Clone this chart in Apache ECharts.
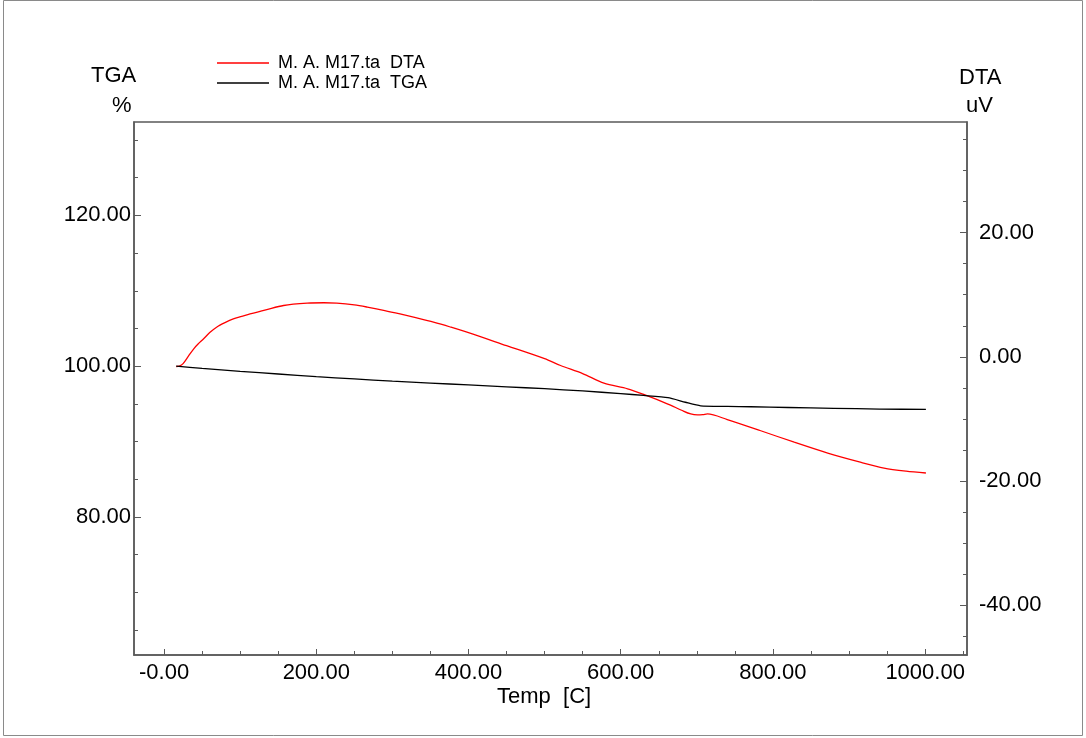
<!DOCTYPE html>
<html>
<head>
<meta charset="utf-8">
<script src="https://cdn.jsdelivr.net/npm/echarts@6/dist/echarts.min.js"></script>
<style>
html,body{margin:0;padding:0;background:#fff;}
#chart{width:1086px;height:738px;}
</style>
</head>
<body>
<div id="chart"></div>
<script>
// ---- data ----
const tgaTemps  = [16, 50, 100, 150, 200, 250, 300, 350, 400, 450, 500, 550, 600, 630, 662, 685, 705, 740, 771, 820, 880, 940, 1001];
const tgaValues = [100.0, 99.7, 99.3, 98.95, 98.6, 98.3, 98.0, 97.75, 97.5, 97.25, 97.0, 96.7, 96.35, 96.1, 95.8, 95.2, 94.73, 94.65, 94.6, 94.5, 94.4, 94.3, 94.25];

const dtaTemps  = [16, 20, 25, 32, 39, 45, 52, 60, 69, 80, 91, 102, 113, 135, 157, 188, 210, 227, 250, 267, 290, 310, 332, 354, 376, 400, 450, 500, 521, 550, 578, 609, 631, 662, 680, 692, 701, 708, 714, 740, 784, 828, 872, 916, 946, 975, 1001];
const dtaValues = [-1.56, -1.5, -1.1, 0.1, 1.29, 2.1, 2.9, 3.9, 4.77, 5.5, 6.1, 6.5, 6.9, 7.6, 8.26, 8.63, 8.7, 8.63, 8.35, 8.0, 7.45, 6.9, 6.25, 5.57, 4.8, 3.9, 1.8, -0.3, -1.4, -2.7, -4.25, -5.15, -6.1, -7.6, -8.6, -9.2, -9.35, -9.3, -9.2, -10.1, -11.9, -13.75, -15.5, -17.0, -17.9, -18.4, -18.7];

const xMajorTicks = [0, 200, 400, 600, 800, 1000];
const xMinorTicks = [0, 50, 100, 150, 200, 250, 300, 350, 400, 450, 500, 550, 600, 650, 700, 750, 800, 850, 900, 950, 1000, 1050];
const tgaMajorTicks = [80, 100, 120];
const tgaMinorTicks = [65, 70, 75, 85, 90, 95, 105, 110, 115, 125, 130];
const dtaMajorTicks = [-40, -20, 0, 20];
const dtaMinorTicks = [-45, -35, -30, -25, -15, -10, -5, 5, 10, 15, 25, 30, 35];

const seriesNames = ['M. A. M17.ta  DTA', 'M. A. M17.ta  TGA'];

const tgaData = tgaTemps.map((t, i) => [t, tgaValues[i]]);
const dtaData = dtaTemps.map((t, i) => [t, dtaValues[i]]);

const FONT = 'Liberation Sans, Arial, sans-serif';
const axisColor = '#5a5a5a';
const fmt = v => (v === 0 ? '-0.00' : v.toFixed(2));
const fmtR = v => v.toFixed(2);

const chart = echarts.init(document.getElementById('chart'), null, {renderer: 'canvas'});
chart.setOption({
  animation: false,
  backgroundColor: '#fff',
  grid: {left: 134, right: 119, top: 122, bottom: 83, show: true, borderColor: axisColor, borderWidth: 1.5},
  legend: {
    orient: 'vertical', left: 212, top: 48, itemWidth: 52, itemHeight: 1.5, itemGap: 0,
    icon: 'rect',
    data: seriesNames,
    textStyle: {fontFamily: FONT, fontSize: 18, lineHeight: 20, color: '#000', padding: [0, 0, 0, 4]}
  },
  xAxis: [
    {type: 'value', min: -39.5, max: 1055, position: 'bottom',
     axisLine: {show: true, onZero: false, lineStyle: {color: axisColor, width: 1.5}},
     axisTick: {show: true, inside: true, length: 6, customValues: xMajorTicks, lineStyle: {color: axisColor}},
     axisLabel: {show: true, customValues: xMajorTicks, formatter: fmt, fontFamily: FONT, fontSize: 22, color: '#000', margin: 7},
     splitLine: {show: false}},
    {type: 'value', min: -39.5, max: 1055, position: 'bottom',
     axisLine: {show: false, onZero: false},
     axisTick: {show: true, inside: true, length: 4, customValues: xMinorTicks, lineStyle: {color: axisColor}},
     axisLabel: {show: false},
     splitLine: {show: false}}
  ],
  yAxis: [
    {type: 'value', min: 61.65, max: 132.4, position: 'left',
     axisLine: {show: true, onZero: false, lineStyle: {color: axisColor, width: 1.5}},
     axisTick: {show: true, inside: true, length: 7, customValues: tgaMajorTicks, lineStyle: {color: axisColor}},
     axisLabel: {show: true, customValues: tgaMajorTicks, formatter: fmtR, fontFamily: FONT, fontSize: 22, color: '#000', margin: 3},
     splitLine: {show: false}},
    {type: 'value', min: 61.65, max: 132.4, position: 'left',
     axisLine: {show: false, onZero: false},
     axisTick: {show: true, inside: true, length: 4, customValues: tgaMinorTicks, lineStyle: {color: axisColor}},
     axisLabel: {show: false},
     splitLine: {show: false}},
    {type: 'value', min: -48.0, max: 37.8, position: 'right',
     axisLine: {show: true, onZero: false, lineStyle: {color: axisColor, width: 1.5}},
     axisTick: {show: true, inside: true, length: 7, customValues: dtaMajorTicks, lineStyle: {color: axisColor}},
     axisLabel: {show: true, customValues: dtaMajorTicks, formatter: fmtR, fontFamily: FONT, fontSize: 22, color: '#000', margin: 12},
     splitLine: {show: false}},
    {type: 'value', min: -48.0, max: 37.8, position: 'right',
     axisLine: {show: false, onZero: false},
     axisTick: {show: true, inside: true, length: 4, customValues: dtaMinorTicks, lineStyle: {color: axisColor}},
     axisLabel: {show: false},
     splitLine: {show: false}}
  ],
  series: [
    {name: seriesNames[0], type: 'line', xAxisIndex: 0, yAxisIndex: 2, data: dtaData,
     showSymbol: false, smooth: 0.3, lineStyle: {color: '#ff0000', width: 1.3}, itemStyle: {color: '#ff0000'}},
    {name: seriesNames[1], type: 'line', xAxisIndex: 0, yAxisIndex: 0, data: tgaData,
     showSymbol: false, smooth: 0.2, lineStyle: {color: '#000000', width: 1.3}, itemStyle: {color: '#000000'}}
  ],
  graphic: [
    {type: 'rect', shape: {x: 3.5, y: 0.5, width: 1079, height: 735}, style: {fill: 'none', stroke: '#8a8a8a', lineWidth: 1}, silent: true},
    {type: 'text', left: 91, top: 65, style: {text: 'TGA', font: '22px ' + FONT, fill: '#000'}},
    {type: 'text', left: 112, top: 95, style: {text: '%', font: '22px ' + FONT, fill: '#000'}},
    {type: 'text', left: 959, top: 67, style: {text: 'DTA', font: '22px ' + FONT, fill: '#000'}},
    {type: 'text', left: 966, top: 95, style: {text: 'uV', font: '22px ' + FONT, fill: '#000'}},
    {type: 'text', left: 497, top: 686, style: {text: 'Temp  [C]', font: '22px ' + FONT, fill: '#000'}}
  ]
});
</script>
</body>
</html>
